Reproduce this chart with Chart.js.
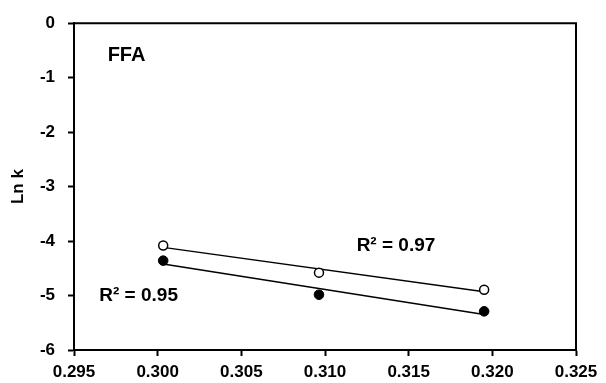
<!DOCTYPE html>
<html>
<head>
<meta charset="utf-8">
<script src="https://cdn.jsdelivr.net/npm/chart.js@4/dist/chart.umd.min.js"></script>
<style>
  html, body { margin: 0; padding: 0; background: #fff; }
  #wrap { width: 606px; height: 383px; }
</style>
</head>
<body>
<div id="wrap"><canvas id="c" width="606" height="383"></canvas></div>
<script>
// ---- data ----
const xValues      = [0.30033, 0.30964, 0.31951];
const lnkOpen      = [-4.08, -4.58, -4.895];
const lnkFilled    = [-4.36, -4.985, -5.29];
const xTickValues  = [0.295, 0.300, 0.305, 0.310, 0.315, 0.320, 0.325];
const xTickLabels  = ['0.295', '0.300', '0.305', '0.310', '0.315', '0.320', '0.325'];
const yTickValues  = [0, -1, -2, -3, -4, -5, -6];
const yTickLabels  = ['0', '-1', '-2', '-3', '-4', '-5', '-6'];
const panelLabel   = 'FFA';
const r2Labels     = ['R\u00B2 = 0.97', 'R\u00B2 = 0.95'];
const yTitle       = 'Ln k';

// ---- helpers ----
function linFit(xs, ys) {
  const n = xs.length;
  const mx = xs.reduce((a, b) => a + b, 0) / n;
  const my = ys.reduce((a, b) => a + b, 0) / n;
  let sxy = 0, sxx = 0;
  for (let i = 0; i < n; i++) { sxy += (xs[i] - mx) * (ys[i] - my); sxx += (xs[i] - mx) ** 2; }
  const b = sxy / sxx, a = my - b * mx;
  const x0 = Math.min(...xs), x1 = Math.max(...xs);
  return [{ x: x0, y: a + b * x0 }, { x: x1, y: a + b * x1 }];
}
const pts = ys => xValues.map((x, i) => ({ x, y: ys[i] }));

// annotation anchors in data units (left edge, text baseline)
const annotations = [
  { text: panelLabel,  x: 0.29701, y: -0.69,  size: 20 },
  { text: r2Labels[0], x: 0.31189, y: -4.187, size: 19 },
  { text: r2Labels[1], x: 0.29651, y: -5.107, size: 19 }
];

const FAMILY = 'Liberation Sans';
Chart.defaults.font.family = FAMILY;
Chart.defaults.font.size = 17;
Chart.defaults.font.weight = 'bold';
Chart.defaults.color = '#000';

const annotPlugin = {
  id: 'annot',
  afterDatasetsDraw(chart) {
    const { ctx, scales: { x, y } } = chart;
    ctx.save();
    ctx.fillStyle = '#000';
    ctx.textAlign = 'left';
    ctx.textBaseline = 'alphabetic';
    annotations.forEach(a => {
      ctx.font = 'bold ' + a.size + 'px ' + FAMILY;
      ctx.fillText(a.text, x.getPixelForValue(a.x), y.getPixelForValue(a.y));
    });
    ctx.restore();
  }
};

const framePlugin = {
  id: 'frame',
  afterDraw(chart) {
    const { ctx, chartArea: ca } = chart;
    ctx.save();
    ctx.strokeStyle = '#000';
    ctx.lineWidth = 2;
    ctx.beginPath();
    ctx.moveTo(ca.left, ca.top);
    ctx.lineTo(ca.right, ca.top);
    ctx.lineTo(ca.right, ca.bottom);
    ctx.stroke();
    ctx.restore();
  }
};

const tickFont = { family: FAMILY, size: 17, weight: 'bold' };

new Chart(document.getElementById('c'), {
  type: 'scatter',
  data: {
    datasets: [
      { type: 'line', data: linFit(xValues, lnkOpen), borderColor: '#000', borderWidth: 1.5,
        pointRadius: 0, fill: false, order: 2 },
      { type: 'line', data: linFit(xValues, lnkFilled), borderColor: '#000', borderWidth: 1.5,
        pointRadius: 0, fill: false, order: 2 },
      { data: pts(lnkOpen), pointRadius: 4.5, pointBackgroundColor: '#fff', pointBorderColor: '#000',
        pointBorderWidth: 1.5, order: 1 },
      { data: pts(lnkFilled), pointRadius: 4.8, pointBackgroundColor: '#000', pointBorderColor: '#000',
        pointBorderWidth: 1, order: 1 }
    ]
  },
  options: {
    responsive: false,
    animation: false,
    devicePixelRatio: 1,
    layout: { padding: { top: 19, right: 30, left: 0, bottom: 0 } },
    plugins: { legend: { display: false }, tooltip: { enabled: false } },
    scales: {
      x: {
        type: 'linear', min: 0.295, max: 0.325,
        afterBuildTicks: s => { s.ticks = xTickValues.map(v => ({ value: v })); },
        afterFit: s => { s.height = 33; },
        border: { color: '#000', width: 2 },
        grid: { drawOnChartArea: false, drawTicks: true, tickLength: 6, tickColor: '#000', tickWidth: 2 },
        ticks: { color: '#000', padding: 6, maxRotation: 0, autoSkip: false, font: tickFont,
                 callback: (v, i) => xTickLabels[i] }
      },
      y: {
        type: 'linear', min: -6, max: 0,
        afterBuildTicks: s => { s.ticks = yTickValues.map(v => ({ value: v })); },
        afterFit: s => { s.width = 74; },
        border: { color: '#000', width: 2 },
        grid: { drawOnChartArea: false, drawTicks: true, tickLength: 6, tickColor: '#000', tickWidth: 2 },
        ticks: { color: '#000', padding: 13, autoSkip: false, font: tickFont,
                 callback: (v, i) => yTickLabels[i] },
        title: { display: true, text: yTitle, color: '#000', padding: { top: 8, bottom: 0 },
                 font: tickFont }
      }
    }
  },
  plugins: [annotPlugin, framePlugin]
});
</script>
</body>
</html>
